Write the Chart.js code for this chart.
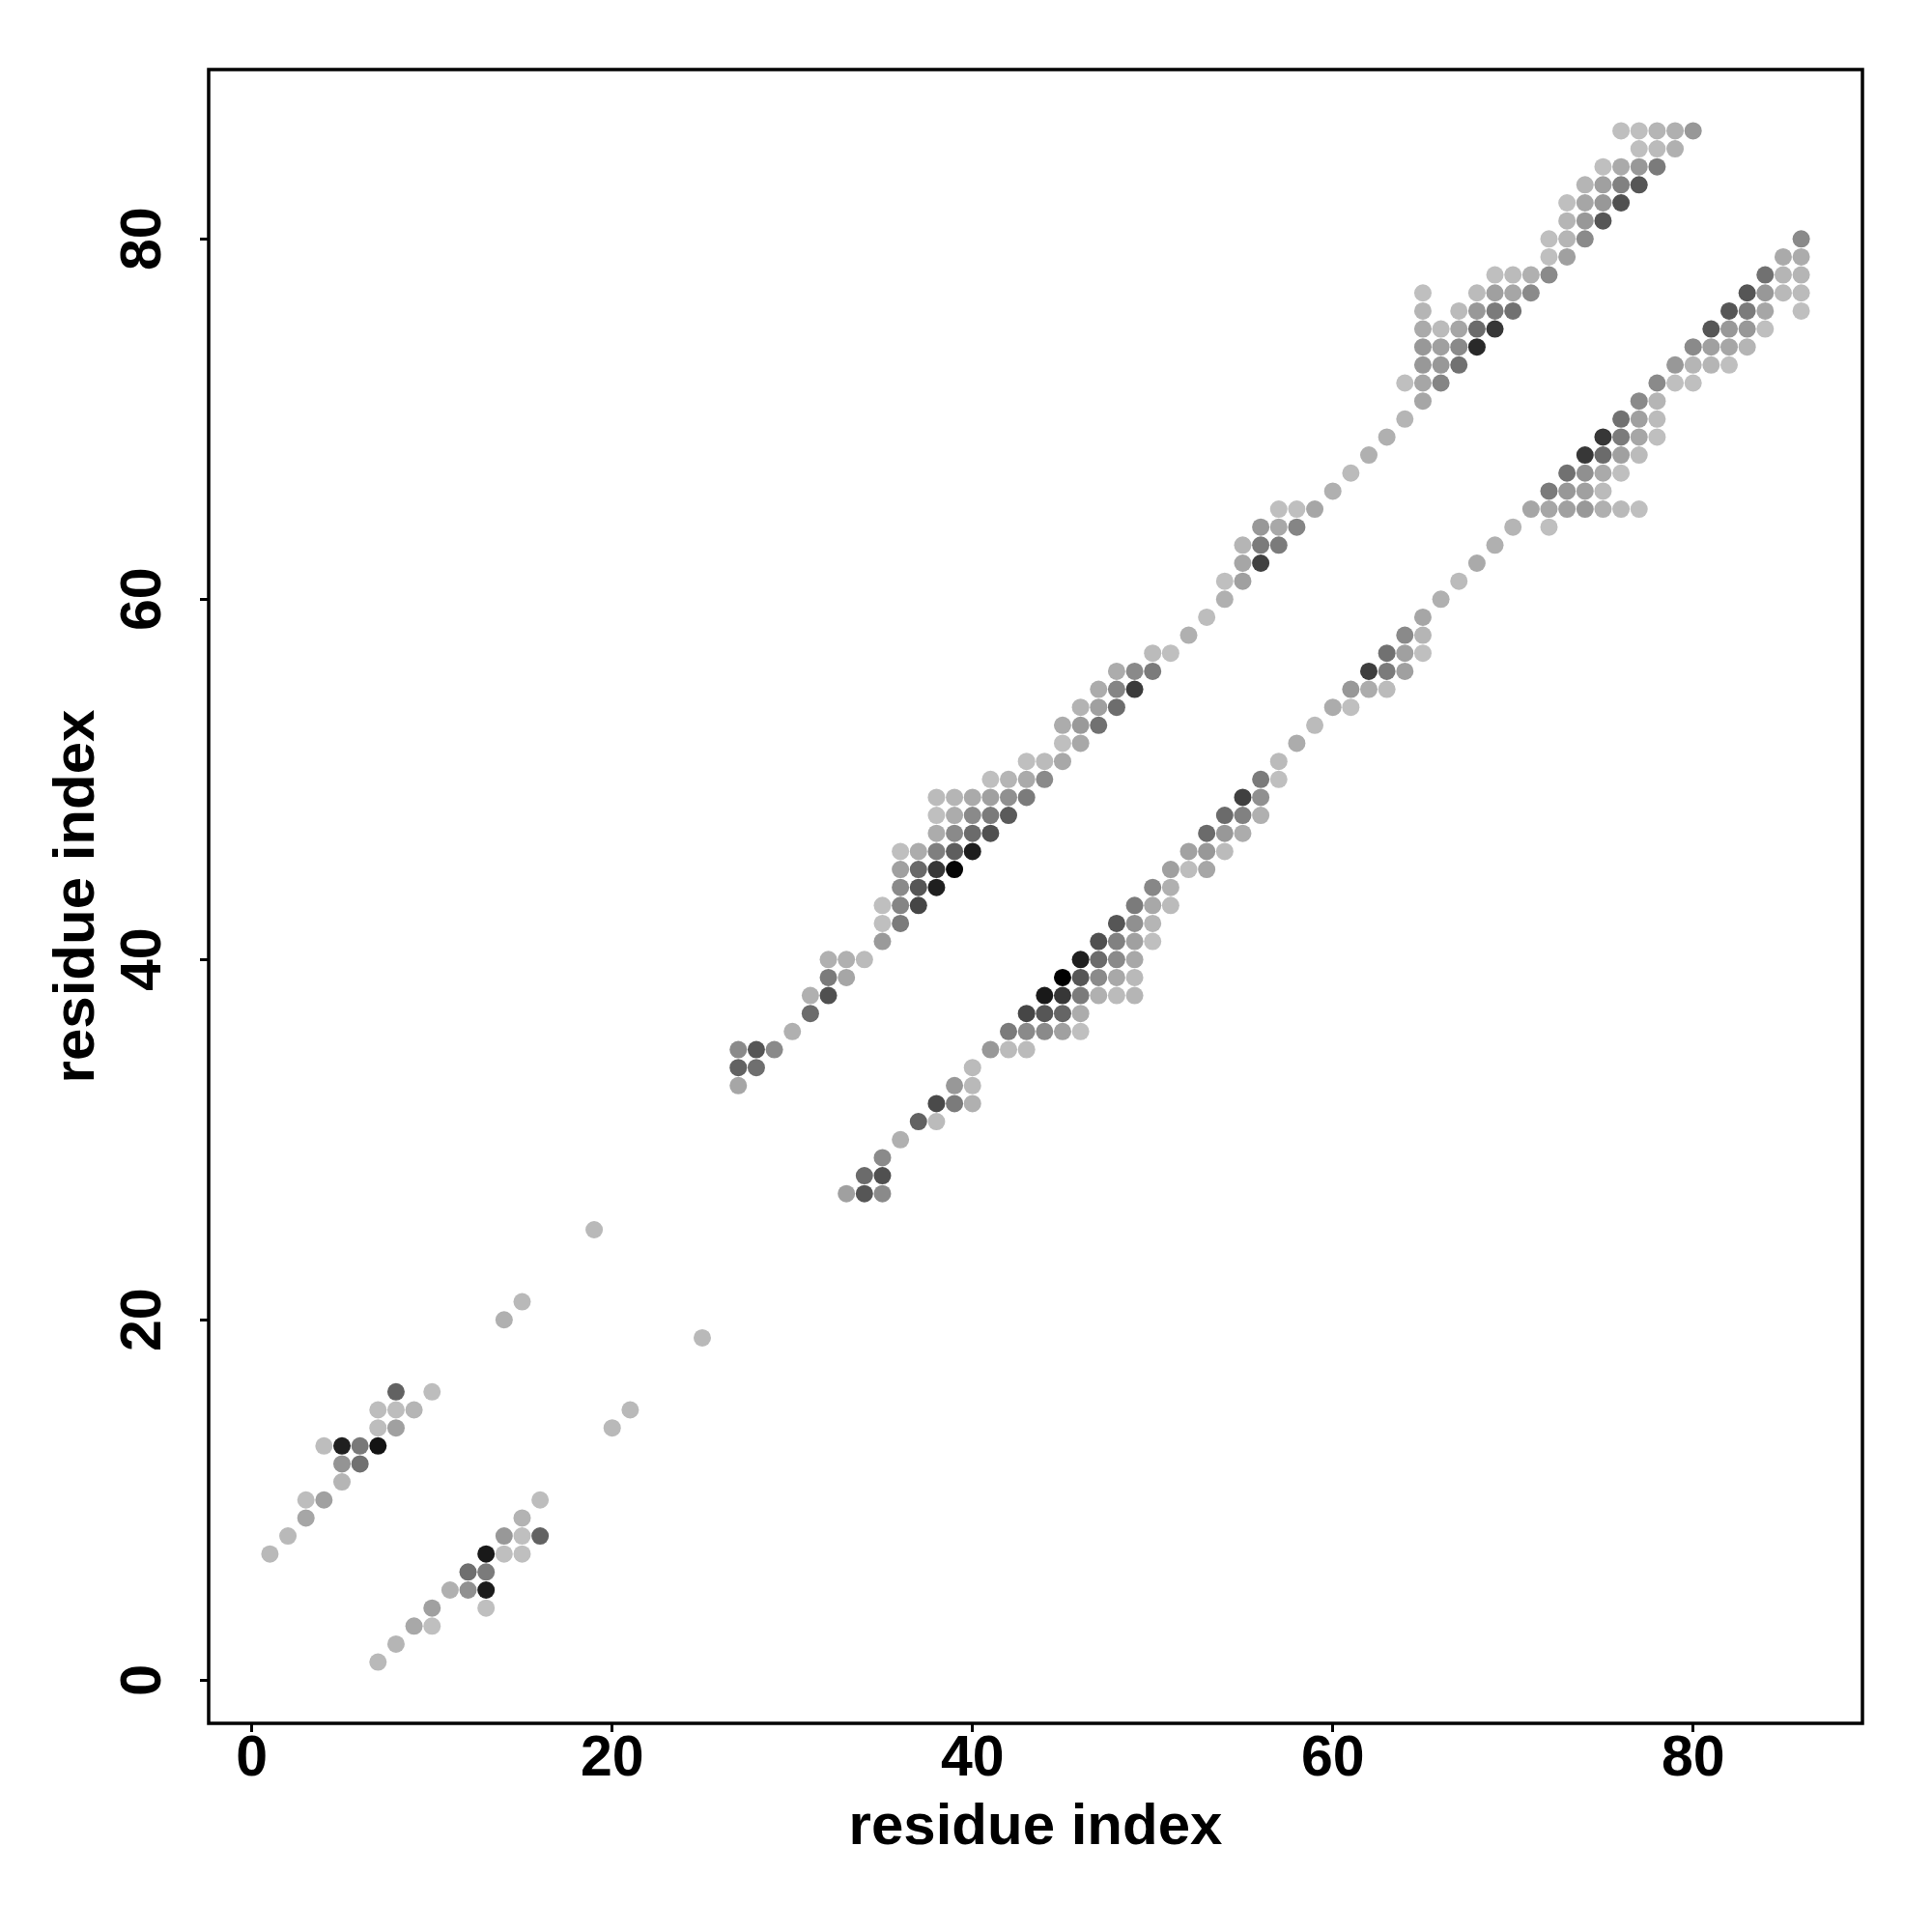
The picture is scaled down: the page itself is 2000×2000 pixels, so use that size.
<!DOCTYPE html>
<html>
<head>
<meta charset="utf-8">
<script src="https://cdn.jsdelivr.net/npm/chart.js@4.4.1/dist/chart.umd.min.js"></script>
<style>
  html, body { margin: 0; padding: 0; background: #fff; }
  canvas { display: block; }
</style>
</head>
<body>
<canvas id="chart" width="2000" height="2000"></canvas>
<script>
// contacts as [residue i, residue j, probability]
const nTermUpper = [
    [1,7,.05],[2,8,.05],[3,9,.15],[3,10,.03],[4,10,.18],[5,11,.07],[5,12,.24],[6,12,.42],
    [4,13,.03],[5,13,.84],[6,13,.38],[7,13,.9],[7,14,.03],[8,14,.18],[7,15,.03],[8,15,.03],
    [9,15,.07],[8,16,.5],[10,16,.03]
];
const nTermLower = [
    [7,1,.05],[8,2,.07],[9,3,.14],[10,3,.02],[10,4,.18],[13,4,.02],[11,5,.1],[12,5,.26],
    [13,5,.86],[12,6,.43],[13,6,.37],[13,7,.87],[14,7,.02],[15,7,.02],[14,8,.22],[15,8,.02],
    [16,8,.5],[15,9,.08],[16,10,.03]
];
const isolated = [[14,20,.1],[15,21,.05],[19,25,.05],[20,14,.05],[21,15,.05],[25,19,.05]];
const upperBand = [
    [27,33,.15],[27,34,.5],[28,34,.43],[27,35,.29],[28,35,.56],[29,35,.29],[30,36,.1],[31,37,.45],
    [31,38,.1],[32,38,.59],[32,39,.37],[33,39,.15],[32,40,.1],[33,40,.1],[34,40,.04],[35,41,.21],
    [35,42,.02],[36,42,.37],[35,43,.02],[36,43,.32],[37,43,.64],[36,44,.29],[37,44,.56],[38,44,.84],
    [36,45,.18],[37,45,.46],[38,45,.72],[39,45,.97],[36,46,.02],[37,46,.12],[38,46,.35],[39,46,.52],
    [40,46,.85],[38,47,.12],[39,47,.29],[40,47,.45],[41,47,.59],[38,48,.02],[39,48,.12],[40,48,.29],
    [41,48,.37],[42,48,.54],[38,49,.04],[39,49,.07],[40,49,.13],[41,49,.18],[42,49,.26],[43,49,.37],
    [41,50,.02],[42,50,.07],[43,50,.13],[44,50,.29],[43,51,.02],[44,51,.04],[45,51,.14],[45,52,.02],
    [46,52,.14],[45,53,.12],[46,53,.21],[47,53,.42],[46,54,.08],[47,54,.18],[48,54,.44],[47,55,.12],
    [48,55,.32],[49,55,.7],[48,56,.12],[49,56,.29],[50,56,.37],[50,57,.04],[51,57,.02],[52,58,.1],
    [53,59,.03],[54,60,.1],[54,61,.02],[55,61,.18],[55,62,.15],[56,62,.67],[55,63,.07],[56,63,.37],
    [57,63,.37],[56,64,.22],[57,64,.14],[58,64,.32],[57,65,.02],[58,65,.02],[59,65,.15],[60,66,.1],
    [61,67,.04],[62,68,.1],[63,69,.1],[64,70,.07],[65,71,.15],[64,72,.02],[65,72,.15],[66,72,.32],
    [65,73,.22],[66,73,.22],[67,73,.42],[65,74,.22],[66,74,.18],[67,74,.29],[68,74,.79],[65,75,.13],
    [66,75,.04],[67,75,.15],[68,75,.45],[69,75,.72],[65,76,.07],[67,76,.04],[68,76,.22],[69,76,.37],
    [70,76,.42],[65,77,.02],[68,77,.04],[69,77,.18],[70,77,.15],[71,77,.29],[69,78,.02],[70,78,.04],
    [71,78,.1],[72,78,.29],[72,79,.02],[73,79,.18],[72,80,.02],[73,80,.07],[74,80,.29],[73,81,.07],
    [74,81,.22],[75,81,.56],[73,82,.02],[74,82,.15],[75,82,.22],[76,82,.59],[74,83,.07],[75,83,.18],
    [76,83,.34],[77,83,.56],[75,84,.02],[76,84,.13],[77,84,.22],[78,84,.37],[77,85,.02],[78,85,.04],
    [79,85,.1],[76,86,.02],[77,86,.02],[78,86,.07],[79,86,.1],[80,86,.22]
];
const lowerBand = [
    [33,27,.18],[34,27,.56],[35,27,.29],[34,28,.45],[35,28,.59],[35,29,.29],[36,30,.1],[37,31,.5],
    [38,31,.04],[38,32,.62],[39,32,.37],[40,32,.1],[39,33,.22],[40,33,.05],[40,34,.04],[41,35,.22],
    [42,35,.04],[43,35,.04],[42,36,.37],[43,36,.29],[44,36,.29],[45,36,.18],[46,36,.02],[43,37,.64],
    [44,37,.56],[45,37,.48],[46,37,.12],[44,38,.87],[45,38,.72],[46,38,.37],[47,38,.1],[48,38,.04],
    [49,38,.07],[45,39,1],[46,39,.56],[47,39,.29],[48,39,.14],[49,39,.05],[46,40,.84],[47,40,.45],
    [48,40,.29],[49,40,.14],[47,41,.59],[48,41,.34],[49,41,.18],[50,41,.02],[48,42,.56],[49,42,.26],
    [50,42,.07],[49,43,.37],[50,43,.14],[51,43,.04],[50,44,.31],[51,44,.1],[51,45,.18],[52,45,.03],
    [53,45,.15],[52,46,.17],[53,46,.22],[54,46,.04],[53,47,.45],[54,47,.22],[55,47,.12],[54,48,.45],
    [55,48,.34],[56,48,.1],[55,49,.67],[56,49,.26],[56,50,.37],[57,50,.02],[57,51,.04],[58,52,.12],
    [59,53,.04],[60,54,.12],[61,54,.02],[61,55,.22],[62,55,.12],[63,55,.04],[62,56,.68],[63,56,.37],
    [64,56,.18],[63,57,.42],[64,57,.18],[65,57,.02],[64,58,.29],[65,58,.07],[65,59,.15],[66,60,.1],
    [67,61,.04],[68,62,.13],[69,63,.1],[70,64,.07],[72,64,.02],[71,65,.15],[72,65,.15],[73,65,.18],
    [74,65,.22],[75,65,.1],[76,65,.05],[77,65,.02],[72,66,.37],[73,66,.22],[74,66,.18],[75,66,.04],
    [73,67,.42],[74,67,.26],[75,67,.13],[76,67,.02],[74,68,.72],[75,68,.45],[76,68,.18],[77,68,.04],
    [75,69,.72],[76,69,.37],[77,69,.15],[78,69,.02],[76,70,.42],[77,70,.18],[78,70,.04],[77,71,.29],
    [78,71,.07],[78,72,.29],[79,72,.02],[80,72,.02],[79,73,.22],[80,73,.07],[81,73,.07],[82,73,.02],
    [80,74,.29],[81,74,.18],[82,74,.15],[83,74,.07],[81,75,.56],[82,75,.22],[83,75,.22],[84,75,.02],
    [82,76,.56],[83,76,.37],[84,76,.15],[86,76,.02],[83,77,.56],[84,77,.22],[85,77,.05],[86,77,.04],
    [84,78,.42],[85,78,.07],[86,78,.07],[85,79,.13],[86,79,.12],[86,80,.29]
];
const tickValues = [0, 20, 40, 60, 80];
const axisMin = -2.4, axisMax = 89.4;

const toGray = p => {
    const g = Math.round(195 * (1 - p));
    return `rgb(${g},${g},${g})`;
};

const points = [...nTermUpper, ...nTermLower, ...isolated, ...upperBand, ...lowerBand]
    .map(([x, y, p]) => ({x, y, p}));
const colors = points.map(pt => toGray(pt.p));

const family = "'Liberation Sans', Arial, sans-serif";
const tickFont = {family, size: 59, weight: 'bold', lineHeight: 1};
const titleFont = {family, size: 60, weight: 'bold', lineHeight: 1};

// box round the plot region
const frame = {
    id: 'frame',
    afterDraw(chart) {
        const {ctx, chartArea: a} = chart;
        ctx.save();
        ctx.strokeStyle = '#000';
        ctx.lineWidth = 3.5;
        ctx.strokeRect(a.left, a.top, a.right - a.left, a.bottom - a.top);
        ctx.restore();
    }
};

const tickGrid = {drawOnChartArea: false, drawTicks: true, tickLength: 9, tickWidth: 3, tickColor: '#000', color: '#000'};

const ctx = document.getElementById("chart").getContext("2d");
const chart = new Chart(ctx, {
    type: "scatter",
    data: {
        datasets: [{
            data: points,
            pointRadius: 9,
            pointHoverRadius: 9,
            borderWidth: 0,
            pointBorderWidth: 0,
            backgroundColor: colors,
            pointBackgroundColor: colors
        }]
    },
    options: {
        responsive: false,
        animation: false,
        devicePixelRatio: 1,
        events: [],
        layout: {padding: {left: 0, top: 72, right: 72, bottom: 0}},
        plugins: {legend: {display: false}, tooltip: {enabled: false}},
        scales: {
            x: {
                type: "linear",
                position: "bottom",
                min: axisMin,
                max: axisMax,
                afterBuildTicks: s => { s.ticks = tickValues.map(v => ({value: v})); },
                afterFit: s => { s.height = 216; },
                grid: tickGrid,
                border: {display: false},
                ticks: {color: '#000', font: tickFont, padding: -1, maxRotation: 0, autoSkip: false, callback: v => String(v)},
                title: {display: true, text: 'residue index', color: '#000', font: titleFont, padding: {top: 0, bottom: 78}}
            },
            y: {
                type: "linear",
                position: "left",
                min: axisMin,
                max: axisMax,
                afterBuildTicks: s => { s.ticks = tickValues.map(v => ({value: v})); },
                afterFit: s => { s.width = 216; },
                grid: tickGrid,
                border: {display: false},
                ticks: {color: '#000', font: tickFont, padding: 24, minRotation: 90, maxRotation: 90, crossAlign: 'center', autoSkip: false, callback: v => String(v)},
                title: {display: true, text: 'residue index', color: '#000', font: titleFont, padding: {top: 50, bottom: 0}}
            }
        }
    },
    plugins: [frame]
});
</script>
</body>
</html>
